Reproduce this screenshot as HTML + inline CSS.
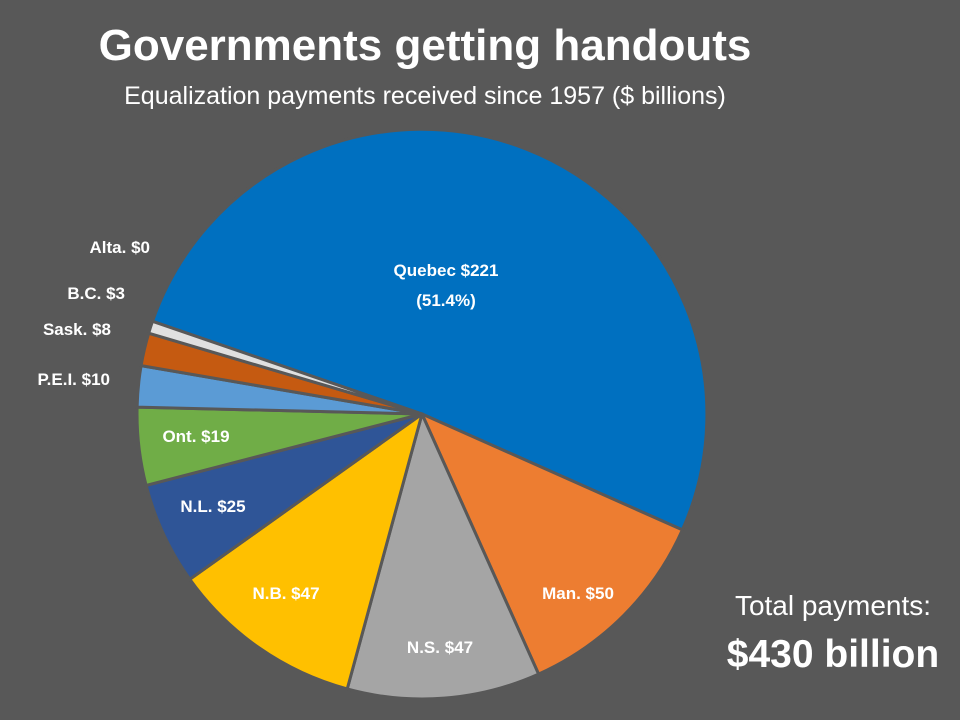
<!DOCTYPE html>
<html><head><meta charset="utf-8"><style>
html,body{margin:0;padding:0;background:#585858;}
svg{display:block}
text{font-family:"Liberation Sans",sans-serif;fill:#fff}
</style></head><body>
<svg id="s" width="960" height="720" xmlns="http://www.w3.org/2000/svg">
<rect width="960" height="720" fill="#585858"/>
<g id="pie"></g>
<text x="425" y="60" font-size="44" font-weight="bold" text-anchor="middle">Governments getting handouts</text>
<text x="425" y="104" font-size="25" text-anchor="middle">Equalization payments received since 1957 ($ billions)</text>
<g font-size="17" font-weight="bold">
<text x="446" y="276" text-anchor="middle">Quebec $221</text>
<text x="446" y="306" text-anchor="middle">(51.4%)</text>
<text x="578" y="599" text-anchor="middle">Man. $50</text>
<text x="440" y="653" text-anchor="middle">N.S. $47</text>
<text x="286" y="599" text-anchor="middle">N.B. $47</text>
<text x="213" y="512" text-anchor="middle">N.L. $25</text>
<text x="196" y="442" text-anchor="middle">Ont. $19</text>
<text x="110" y="385" text-anchor="end">P.E.I. $10</text>
<text x="111" y="335" text-anchor="end">Sask. $8</text>
<text x="125" y="299" text-anchor="end">B.C. $3</text>
<text x="150" y="253" text-anchor="end">Alta. $0</text>
</g>
<text x="833" y="615" font-size="28" text-anchor="middle">Total payments:</text>
<text x="833" y="667" font-size="39" font-weight="bold" text-anchor="middle">$430 billion</text>
</svg>
<script>
var cx=422,cy=414,r=285;
var data=[[221,"#0070C0"],[50,"#ED7D31"],[47,"#A5A5A5"],[47,"#FFC000"],[25,"#2F5597"],[19,"#70AD47"],[10,"#5B9BD5"],[8,"#C55A11"],[3,"#E0E0E0"]];
var tot=430,a=24-221/tot*360,g=document.getElementById("pie"),h="";
function p(d){var t=d*Math.PI/180;return (cx+r*Math.cos(t)).toFixed(1)+","+(cy+r*Math.sin(t)).toFixed(1);}
data.forEach(function(d){var s=d[0]/tot*360,b=a+s;
h+='<path d="M'+cx+','+cy+' L'+p(a)+' A'+r+','+r+' 0 '+(s>180?1:0)+' 1 '+p(b)+' Z" fill="'+d[1]+'" stroke="#585858" stroke-width="3" stroke-linejoin="round"/>';a=b;});
g.innerHTML=h;
</script>
</body></html>
